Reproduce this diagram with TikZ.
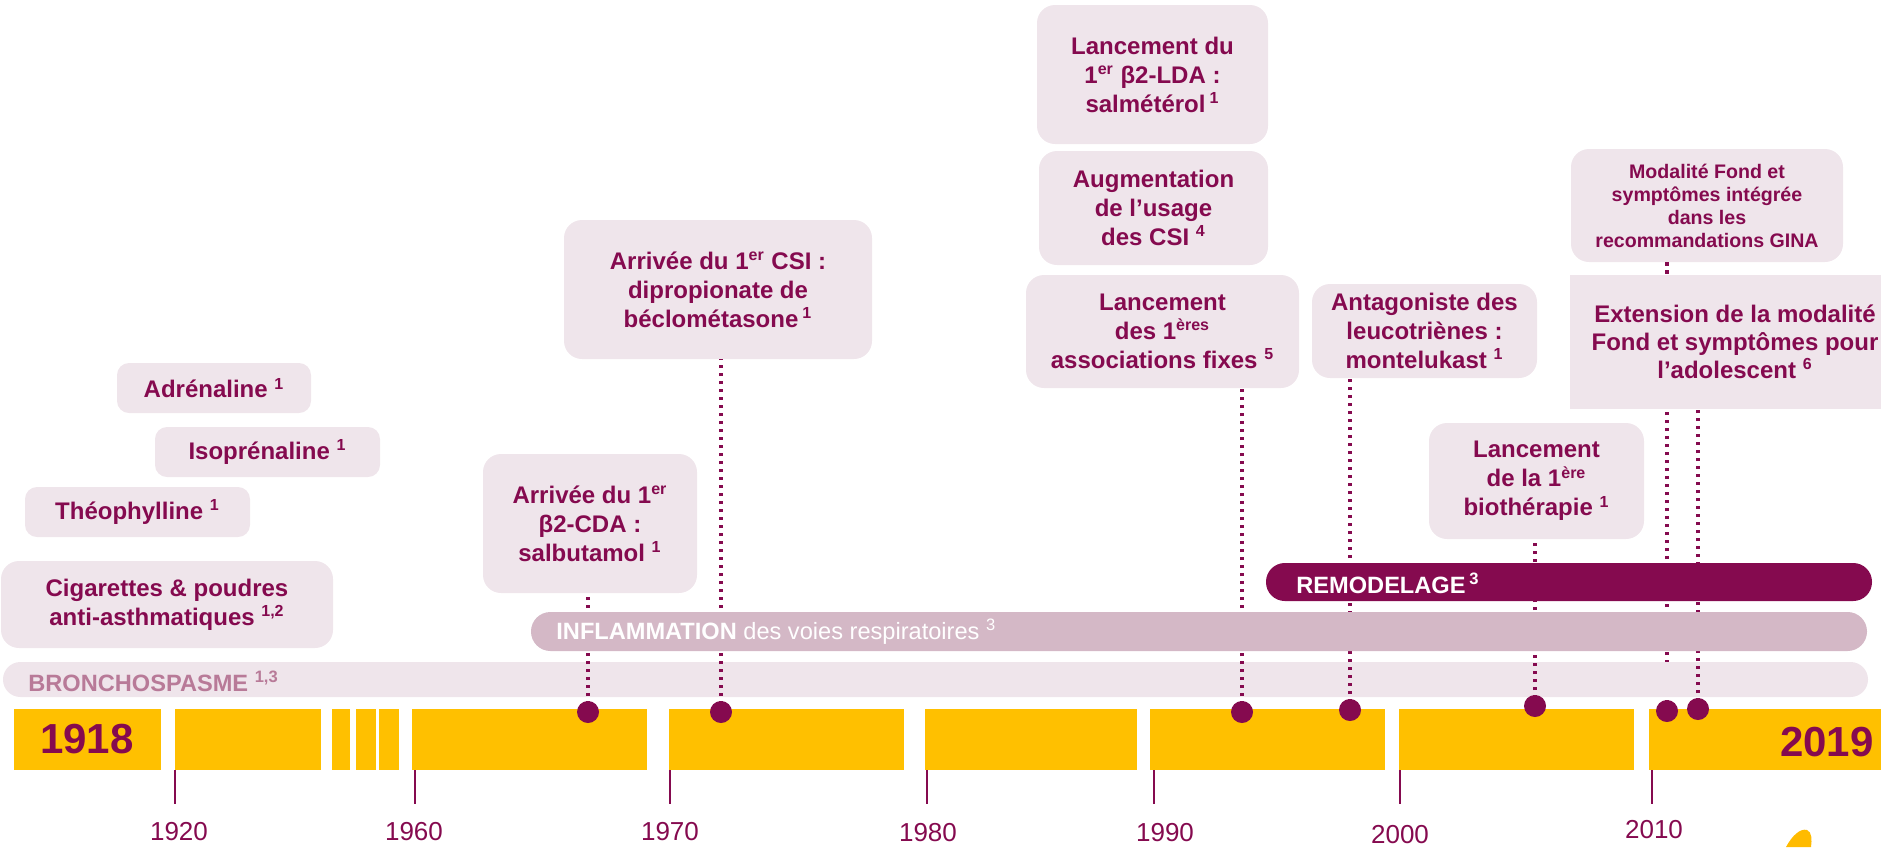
\documentclass[tikz,border=0pt]{standalone}
\usepackage{fontspec}
\setmainfont{Liberation Sans}
\definecolor{prune}{RGB}{133,10,79}
\definecolor{rosepale}{RGB}{239,229,235}
\definecolor{rosemoyen}{RGB}{212,184,198}
\definecolor{rosetexte}{RGB}{184,122,152}
\definecolor{jaune}{RGB}{255,192,0}
\begin{document}
\begin{tikzpicture}[x=0.5pt,y=-0.5pt,line join=round,
    box/.style={fill=rosepale,rounded corners=9pt,inner sep=0pt,align=center,text=prune,
      font=\bfseries\fontsize{12}{14.5}\selectfont},
    pointille/.style={prune,line width=1.6pt,dash pattern=on 1.7pt off 2.3pt},
    barre/.style={anchor=west,inner sep=0pt,font=\fontsize{11.8}{12}\selectfont},
    annee/.style={text=prune,inner sep=0pt,font=\fontsize{13}{13}\selectfont},
    graduation/.style={prune,line width=0.8pt}]
\useasboundingbox (0,0) rectangle (1881,847);
% events
\node[box,rounded corners=6pt,minimum width=97pt,minimum height=25pt] (adre) at (214,388) {Adrénaline \textsuperscript{1}};
\node[box,rounded corners=6pt,minimum width=112.5pt,minimum height=25pt] (iso) at (267.5,452) {Isoprénaline \textsuperscript{1}};
\node[box,rounded corners=6pt,minimum width=112.5pt,minimum height=25pt] (theo) at (137.5,512) {Théophylline \textsuperscript{1}};
\node[box,minimum width=166pt,minimum height=43.5pt] (ciga) at (167,604.5) {Cigarettes \& poudres\\anti-asthmatiques \textsuperscript{1,2}};
\node[box,minimum width=107pt,minimum height=69.5pt] (cda) at (590,523.5) {Arrivée du 1\textsuperscript{er}\\β2-CDA :\\salbutamol \textsuperscript{1}};
\node[box,minimum width=154pt,minimum height=69.5pt] (csi) at (718,289.5) {Arrivée du 1\textsuperscript{er} CSI :\\dipropionate de\\béclométasone\,\textsuperscript{1}};
\node[box,minimum width=115.5pt,minimum height=69.5pt] (lda) at (1152.5,74.5) {Lancement du\\1\textsuperscript{er} β2-LDA :\\salmétérol\,\textsuperscript{1}};
\node[box,minimum width=114.5pt,minimum height=57pt] (usage) at (1153.5,208) {Augmentation\\de l’usage\\des CSI \textsuperscript{4}};
\node[box,minimum width=136.5pt,minimum height=56.5pt] (assoc) at (1162.5,331.5) {Lancement\\des 1\textsuperscript{ères}\\associations fixes \textsuperscript{5}};
\node[box,minimum width=112.5pt,minimum height=47pt] (monte) at (1424.5,331) {Antagoniste des\\leucotriènes :\\montelukast \textsuperscript{1}};
\node[box,minimum width=107.5pt,minimum height=58pt] (bio) at (1536.5,481) {Lancement\\de la 1\textsuperscript{ère}\\biothérapie \textsuperscript{1}};
\node[box,minimum width=136pt,minimum height=56.5pt,font=\bfseries\fontsize{9.8}{11.5}\selectfont] (gina) at (1707,205.5) {Modalité Fond et\\symptômes intégrée\\dans les\\recommandations GINA};
\node[box,rounded corners=0pt,minimum width=165pt,minimum height=67pt,font=\bfseries\fontsize{12}{14}\selectfont] (ado) at (1735,342) {Extension de la modalité\\Fond et symptômes pour\\l’adolescent \textsuperscript{6}};
% dates on the axis
\coordinate (t1967) at (588,712);
\coordinate (t1972) at (721,712);
\coordinate (t1993) at (1242,712);
\coordinate (t1998) at (1350,710);
\coordinate (t2005) at (1535,706);
\coordinate (t2011) at (1667,711);
\coordinate (t2012) at (1698,709);
\draw[pointille] (gina.south -| t2011) -- (ado.north -| t2011);
\draw[pointille] (t2011) -- (ado.south -| t2011);
\fill[rosepale,rounded corners=8.7pt] (3,662) rectangle (1868,697);
\draw[pointille] (t1967) -- (cda.south -| t1967);
\draw[pointille] (t1972) -- (csi.south -| t1972);
\draw[pointille] (t1993) -- (assoc.south -| t1993);
\draw[pointille] (t1998) -- (monte.south -| t1998);
\draw[pointille] (t2005) -- (bio.south -| t2005);
\draw[pointille] (t2012) -- (ado.south -| t2012);
\fill[rosemoyen,rounded corners=9.7pt] (531,612) rectangle (1867,651);
\fill[prune,rounded corners=9.4pt] (1266,563) rectangle (1872,601);
\node[barre,text=rosetexte] (broncho) at (28,681) {\bfseries BRONCHOSPASME \textsuperscript{1,3}};
\node[barre,text=white] (inflam) at (556,632) {\textbf{INFLAMMATION} des voies respiratoires \textsuperscript{3}};
\node[barre,text=white] (remod) at (1296,583) {\bfseries REMODELAGE\,\textsuperscript{3}};
% timeline
\foreach \a/\b in {14/161,175/321,332/350,356/376,379/399,412/647,669/904,925/1137,1150/1385,1399/1634,1649/1881}
  \fill[jaune] (\a,709) rectangle (\b,770);
\foreach \t in {t1967,t1972,t1993,t1998,t2005,t2011,t2012}
  \fill[prune] (\t) circle (5.5pt);
\node[text=prune,font=\bfseries\fontsize{21}{21}\selectfont] (debut) at (87,739) {1918};
\node[anchor=east,inner sep=0pt,text=prune,font=\bfseries\fontsize{21}{21}\selectfont] (fin) at (1874,742) {2019};
\foreach \x/\lx/\ly/\a in {175/179/832/1920,415/414/832/1960,670/670/832/1970,927/928/833/1980,1154/1165/833/1990,1400/1400/835/2000,1652/1654/830/2010}{
  \draw[graduation] (\x,770) -- (\x,804);
  \node[annee] (an\a) at (\lx,\ly) {\a};
}
\fill[jaune!92!orange] (1786,847) .. controls (1792,836) and (1800,828) .. (1807,830) .. controls (1812,832) and (1812,840) .. (1811,847) -- cycle;
\end{tikzpicture}
\end{document}
